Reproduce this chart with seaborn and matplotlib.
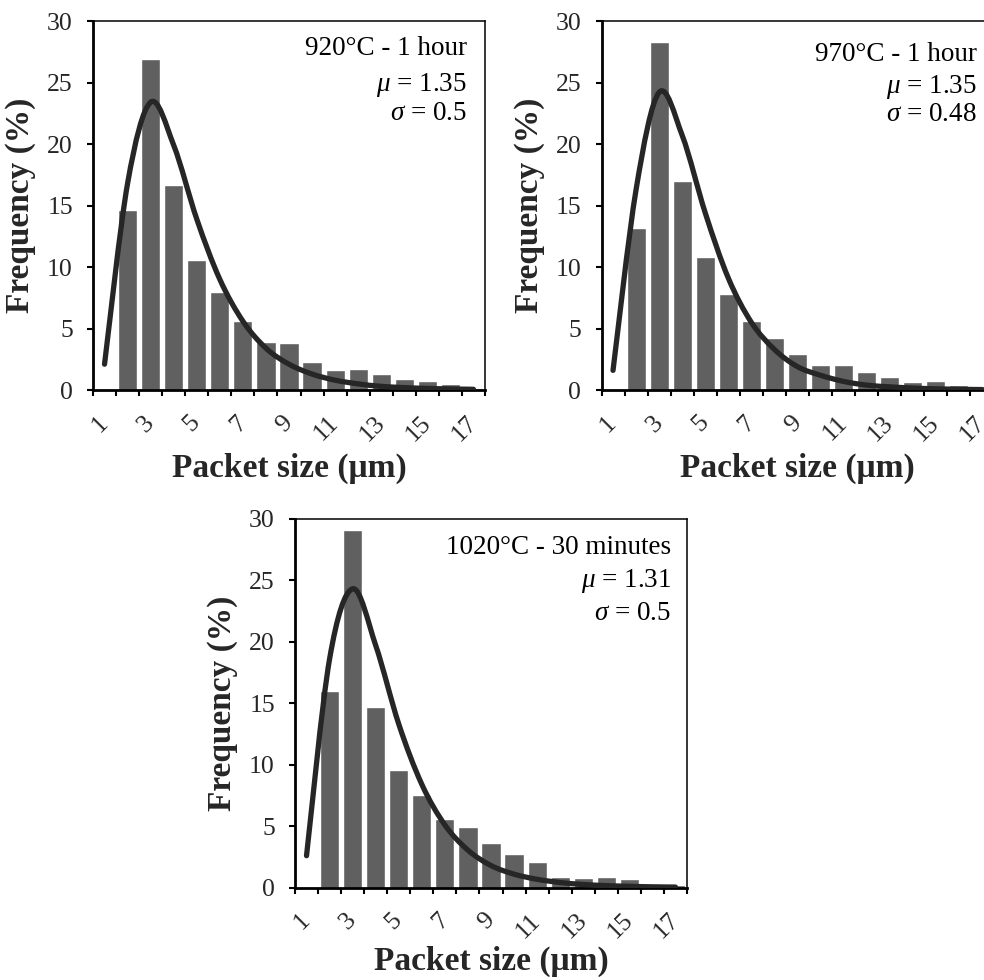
import pandas as pd
import seaborn as sns
import matplotlib.pyplot as plt
from matplotlib.path import Path
from matplotlib.patches import PathPatch

# packet size classes (um) and measured frequencies (%)
sizes = list(range(1, 18))
tick_labels = [str(s) for s in sizes[::2]]

freq_920 = [0, 14.6, 26.9, 16.7, 10.6, 8.0, 5.6, 3.9, 3.8, 2.3, 1.6, 1.7, 1.3, 0.9, 0.7, 0.5, 0.2]
freq_970 = [0, 13.2, 28.3, 17.0, 10.8, 7.8, 5.6, 4.2, 2.9, 2.0, 2.0, 1.5, 1.1, 0.65, 0.7, 0.45, 0.3]
freq_1020 = [0, 16.0, 29.1, 14.7, 9.6, 7.5, 5.6, 4.9, 3.6, 2.7, 2.1, 0.9, 0.8, 0.9, 0.7, 0.2, 0.25]

# log-normal fit curves read at each class
fit_920 = [2.1, 16.8, 23.4, 19.9, 13.9, 9.0, 5.6, 3.4, 2.1, 1.3, 0.8, 0.5, 0.3, 0.2, 0.13, 0.09, 0.06]
fit_970 = [1.6, 16.3, 24.2, 20.7, 14.4, 9.1, 5.5, 3.3, 1.9, 1.2, 0.7, 0.4, 0.26, 0.16, 0.1, 0.06, 0.04]
fit_1020 = [2.6, 18.6, 24.3, 19.7, 13.3, 8.4, 5.1, 3.05, 1.8, 1.1, 0.68, 0.42, 0.26, 0.17, 0.11, 0.07, 0.05]

titles = ["920°C - 1 hour", "970°C - 1 hour", "1020°C - 30 minutes"]
mus = ["1.35", "1.35", "1.31"]
sigmas = ["0.5", "0.48", "0.5"]

sns.set_theme(style="white")
plt.rcParams['font.family'] = ['Liberation Serif', 'DejaVu Serif']
plt.rcParams['mathtext.fontset'] = 'custom'
plt.rcParams['mathtext.rm'] = 'Liberation Serif'
plt.rcParams['mathtext.it'] = 'Liberation Serif:italic'


def smooth_path(xs, ys):
    # excel-like smoothed line (catmull-rom as bezier segments)
    n = len(xs)
    verts = [(xs[0], ys[0])]
    codes = [Path.MOVETO]
    for i in range(n - 1):
        a = max(i - 1, 0)
        b = min(i + 2, n - 1)
        c1 = (xs[i] + (xs[i + 1] - xs[a]) / 6, ys[i] + (ys[i + 1] - ys[a]) / 6)
        c2 = (xs[i + 1] - (xs[b] - xs[i]) / 6, ys[i + 1] - (ys[b] - ys[i]) / 6)
        verts += [c1, c2, (xs[i + 1], ys[i + 1])]
        codes += [Path.CURVE4] * 3
    return Path(verts, codes)


fig = plt.figure(figsize=(9.84, 9.80), dpi=100)
w, h = 392 / 984, 369 / 980
positions = [(93 / 984, 0.602), (601.5 / 984, 0.602), (295 / 984, 0.0942)]
text_offsets = [(0.953, [34, 70, 99]), (0.957, [40, 72, 100]), (0.959, [35, 68, 101])]
xlabel_y = [-0.17, -0.17, -0.158]

for k, (freq, fit) in enumerate([(freq_920, fit_920), (freq_970, fit_970), (freq_1020, fit_1020)]):
    ax = fig.add_axes([positions[k][0], positions[k][1], w, h])
    df = pd.DataFrame({"size": sizes, "freq": freq})
    sns.barplot(data=df, x="size", y="freq", color="#606060", saturation=1,
                width=0.83, ax=ax)

    xs = list(range(len(sizes)))
    ax.add_patch(PathPatch(smooth_path(xs, fit), fill=False, edgecolor="#262626",
                           lw=3.8, capstyle="round", zorder=5))

    ax.set_xlim(-0.5, 16.5)
    ax.set_ylim(0, 30)
    ax.set_yticks(range(0, 31, 5))
    ax.set_xticks(xs[::2])
    ax.set_xticklabels(tick_labels, rotation=45, ha="right", va="center",
                       rotation_mode="anchor")
    ax.set_xticks([x - 0.5 for x in xs] + [16.5], minor=True)
    ax.tick_params(axis="x", which="major", length=0, pad=21, labelsize=18.5)
    ax.tick_params(axis="x", which="minor", bottom=True, length=4.5, width=1.5,
                   direction="out", color="black")
    ax.tick_params(axis="y", which="major", left=True, length=4.5, width=1.5,
                   direction="out", pad=10, labelsize=18.5, color="black")

    for side in ["left", "bottom"]:
        ax.spines[side].set_linewidth(2.0)
        ax.spines[side].set_color("black")
    for side in ["top", "right"]:
        ax.spines[side].set_linewidth(1.1)
        ax.spines[side].set_color("black")

    ax.set_xlabel("Packet size (μm)", fontsize=24, fontweight="bold")
    ax.set_ylabel("Frequency (%)", fontsize=24, fontweight="bold")
    ax.xaxis.set_label_coords(0.5, xlabel_y[k])
    ax.yaxis.set_label_coords(-0.145, 0.5)

    tx, offs = text_offsets[k]
    lines = [titles[k], r"$\mu$ = " + mus[k], r"$\sigma$ = " + sigmas[k]]
    for line, off in zip(lines, offs):
        ax.text(tx, 1 - off / 369, line, transform=ax.transAxes, ha="right",
                va="baseline", fontsize=19.5, color="black")

fig.savefig("out.png", dpi=100)
